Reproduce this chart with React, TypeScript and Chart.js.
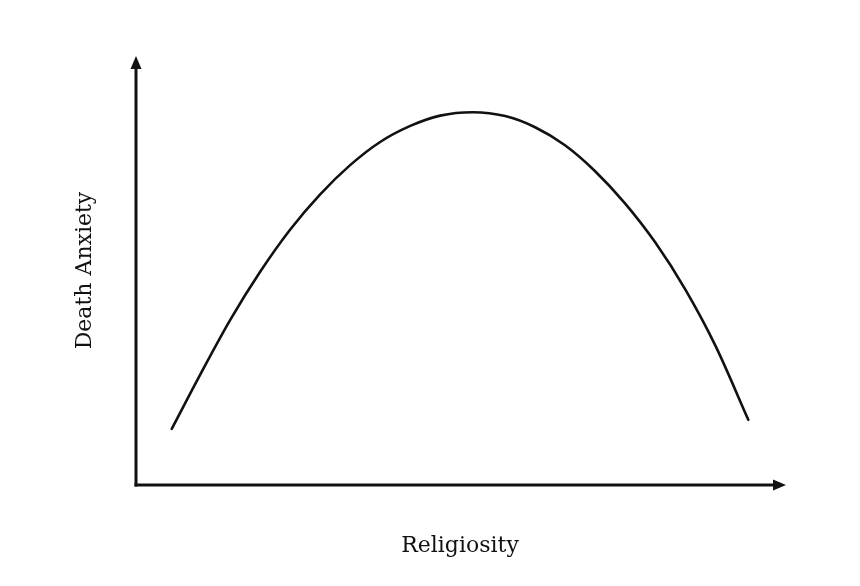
import React, { useEffect, useRef } from "react";
import { Chart, registerables } from "chart.js";

Chart.register(...registerables);

// Religiosity (x, 0–100) vs Death Anxiety (y, 0–100)
const religiosity = [5.5, 9.9, 14.5, 19.1, 23.7, 28.3, 32.9, 37.5, 42.2, 46.8, 51.8, 56.8, 61.4, 66.0, 70.6, 75.2, 79.9, 84.5, 89.1, 94.2];
const deathAnxiety = [13.1, 25.8, 38.5, 49.7, 59.5, 67.7, 74.5, 79.9, 83.7, 86.1, 86.9, 86.0, 83.4, 79.2, 73.2, 65.7, 56.5, 45.6, 32.6, 15.2];

const xTitle = "Religiosity";
const yTitle = "Death Anxiety";

const INK = "#111111";
const FONT = "22px 'DejaVu Serif', serif";

const axesPlugin = {
  id: "arrowAxes",
  afterDraw(chart: any) {
    const { ctx, chartArea } = chart;
    const { left, right, top, bottom } = chartArea;
    ctx.save();
    ctx.strokeStyle = INK;
    ctx.fillStyle = INK;
    ctx.lineWidth = 3;
    ctx.lineCap = "butt";
    // y axis
    ctx.beginPath();
    ctx.moveTo(left, bottom + 1.5);
    ctx.lineTo(left, top + 10);
    ctx.stroke();
    // x axis
    ctx.beginPath();
    ctx.moveTo(left - 1.5, bottom);
    ctx.lineTo(right - 10, bottom);
    ctx.stroke();
    // arrow heads
    ctx.beginPath();
    ctx.moveTo(left, top);
    ctx.lineTo(left - 5.5, top + 13);
    ctx.lineTo(left + 5.5, top + 13);
    ctx.closePath();
    ctx.fill();
    ctx.beginPath();
    ctx.moveTo(right, bottom);
    ctx.lineTo(right - 13, bottom - 5.5);
    ctx.lineTo(right - 13, bottom + 5.5);
    ctx.closePath();
    ctx.fill();
    // titles
    ctx.font = FONT;
    ctx.textAlign = "center";
    ctx.textBaseline = "alphabetic";
    ctx.fillText(xTitle, (left + right) / 2 - 1, bottom + 67);
    ctx.translate(left - 45, (top + bottom) / 2);
    ctx.rotate(-Math.PI / 2);
    ctx.fillText(yTitle, 0, 0);
    ctx.restore();
  },
};

export default function App() {
  const ref = useRef<HTMLCanvasElement>(null);
  useEffect(() => {
    if (!ref.current) return;
    const chart = new Chart(ref.current, {
      type: "line",
      data: {
        datasets: [
          {
            label: "Death Anxiety",
            data: religiosity.map((x, i) => ({ x, y: deathAnxiety[i] })),
            borderColor: INK,
            borderWidth: 2.6,
            pointRadius: 0,
            cubicInterpolationMode: "monotone",
            borderCapStyle: "round",
            fill: false,
          },
        ],
      },
      options: {
        responsive: false,
        animation: false,
        layout: { padding: { left: 136, right: 74, top: 56, bottom: 101 } },
        plugins: { legend: { display: false }, tooltip: { enabled: false } },
        scales: {
          x: { type: "linear", min: 0, max: 100, display: false },
          y: { type: "linear", min: 0, max: 100, display: false },
        },
      },
      plugins: [axesPlugin],
    });
    return () => chart.destroy();
  }, []);
  return (
    <div style={{ position: "fixed", left: 0, top: 0, width: 860, height: 586, background: "#fff" }}>
      <canvas ref={ref} width={860} height={586} />
    </div>
  );
}
